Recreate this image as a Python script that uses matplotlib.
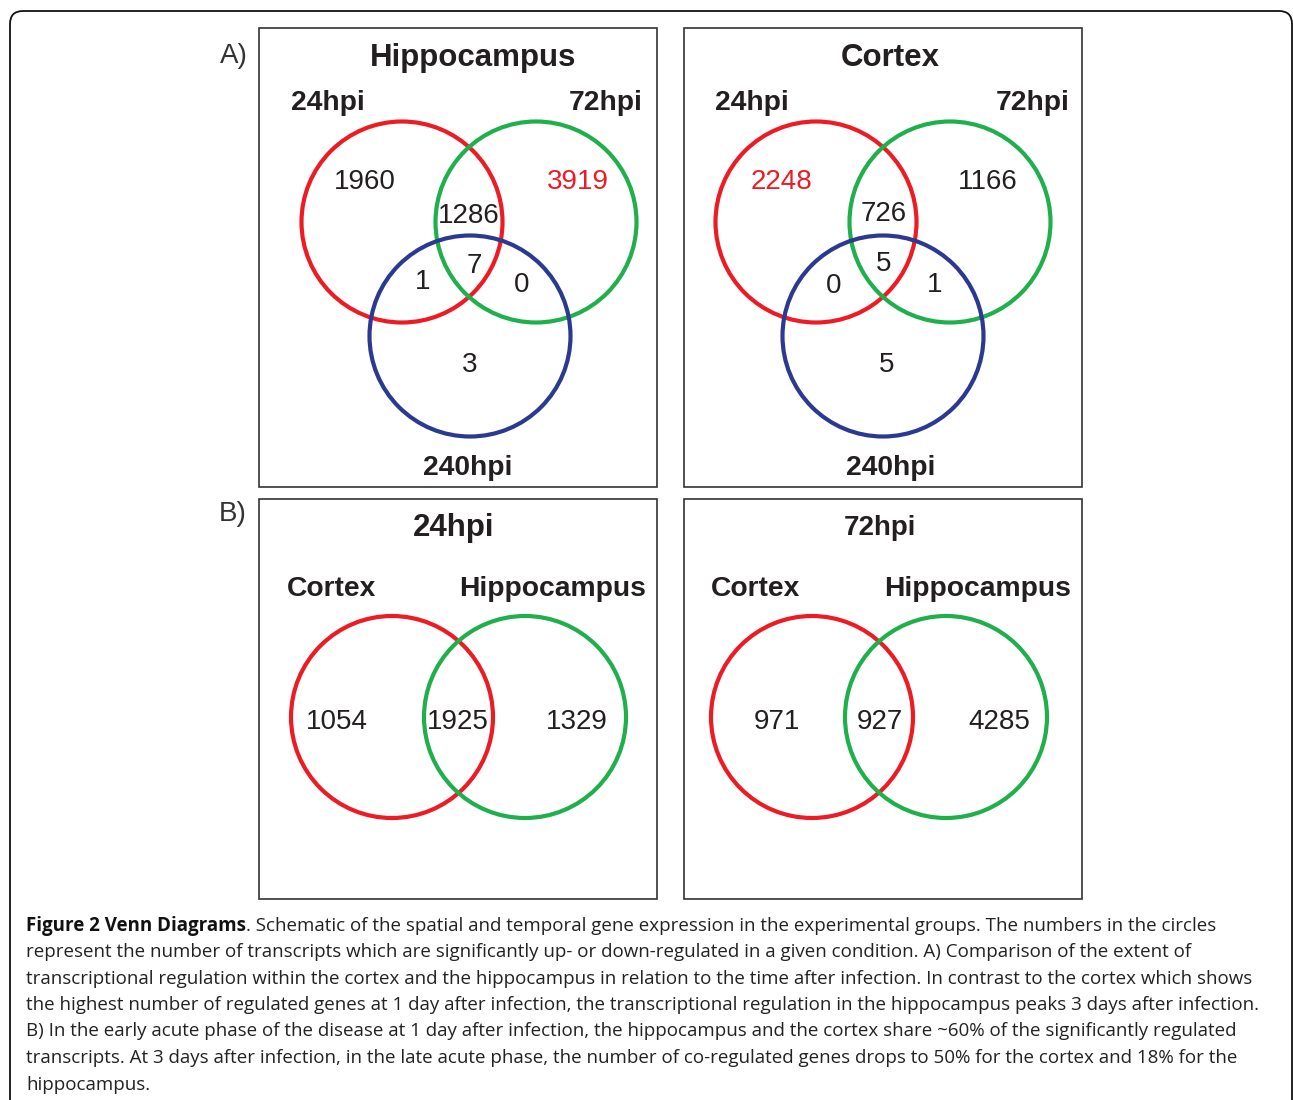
import matplotlib
matplotlib.use("Agg")
import matplotlib.pyplot as plt
from matplotlib.patches import Circle, Rectangle, FancyBboxPatch

# ---------------- data ----------------
# Panel A: three-way Venn (24hpi, 72hpi, 240hpi)
# region order: only24, only72, 24&72, 24&240, all, 72&240, only240
hippo_counts = [1960, 3919, 1286, 1, 7, 0, 3]
hippo_red = [1]                    # index of value printed in red
cortex_counts = [2248, 1166, 726, 0, 5, 1, 5]
cortex_red = [0]
set_labels_A = ["24hpi", "72hpi", "240hpi"]
titles_A = ["Hippocampus", "Cortex"]

# Panel B: two-way Venn (Cortex, Hippocampus)
titles_B = ["24hpi", "72hpi"]
set_labels_B = ["Cortex", "Hippocampus"]
b24_counts = [1054, 1925, 1329]    # only cortex, shared, only hippocampus
b72_counts = [971, 927, 4285]

caption_bold = "Figure 2 Venn Diagrams"
caption_lines = [
    ". Schematic of the spatial and temporal gene expression in the experimental groups. The numbers in the circles",
    "represent the number of transcripts which are significantly up- or down-regulated in a given condition. A) Comparison of the extent of",
    "transcriptional regulation within the cortex and the hippocampus in relation to the time after infection. In contrast to the cortex which shows",
    "the highest number of regulated genes at 1 day after infection, the transcriptional regulation in the hippocampus peaks 3 days after infection.",
    "B) In the early acute phase of the disease at 1 day after infection, the hippocampus and the cortex share ~60% of the significantly regulated",
    "transcripts. At 3 days after infection, in the late acute phase, the number of co-regulated genes drops to 50% for the cortex and 18% for the",
    "hippocampus.",
]

# ---------------- style ----------------
RED = "#ed1c24"
GREEN = "#1fb04b"
BLUE = "#2b3990"
TXT = "#231f20"
FONT = "Liberation Sans"
CAP_FONT = "Open Sans"
LW = 3.0
DY = 2

W, H = 1293, 1100
fig = plt.figure(figsize=(W / 100, H / 100), dpi=100)
ax = fig.add_axes([0, 0, 1, 1])
ax.set_xlim(0, W)
ax.set_ylim(H, 0)
ax.axis("off")

# outer rounded frame
ax.add_patch(FancyBboxPatch((10, 11), 1282, 1130,
                            boxstyle="round,pad=0,rounding_size=13",
                            fill=False, ec="#111111", lw=1.3, clip_on=False))

def box(x0, y0, x1, y1):
    ax.add_patch(Rectangle((x0, y0), x1 - x0, y1 - y0, fill=False,
                           ec="#333333", lw=1.2))

def txt(x, y, s, size, bold=False, color=TXT, **kw):
    ax.text(x, y + DY, s, fontsize=size, fontfamily=FONT,
            fontweight="bold" if bold else "normal", color=color,
            ha="center", va="center", **kw)

def circ(cx, cy, r, color):
    ax.add_patch(Circle((cx, cy), r, fill=False, ec=color, lw=LW))

# panel labels
txt(234, 54, "A)", 20, color="#333333")
txt(233, 512, "B)", 20, color="#333333")

# ---------- Panel A ----------
def venn3(x0, counts, red_idx, title, title_dx, lab_pos, num_pos, centers):
    box(x0, 28, x0 + 398, 487)
    txt(x0 + title_dx, 56, title, 22.5, bold=True)
    for (lx, ly), lab in zip(lab_pos, set_labels_A):
        txt(x0 + lx, ly, lab, 20.3, bold=True)
    for (cx, cy), col in zip(centers, [RED, GREEN, BLUE]):
        circ(x0 + cx, cy, 100.5, col)
    for i, ((nx, ny), v) in enumerate(zip(num_pos, counts)):
        txt(x0 + nx, ny, str(v), 20, color=RED if i in red_idx else TXT)

venn3(259, hippo_counts, hippo_red, titles_A[0], 214,
      [(69, 101), (347, 101), (209, 466)],
      [(106, 180), (319, 180), (210, 214), (164, 280), (215, 264), (263, 283), (211, 363)],
      [(143, 222), (277, 222), (211, 336)])
venn3(684, cortex_counts, cortex_red, titles_A[1], 206,
      [(68, 101), (349, 101), (207, 466)],
      [(98, 180), (304, 180), (200, 212), (150, 284), (200, 262), (251, 283), (203, 363)],
      [(132, 222), (266, 222), (199, 336)])

# ---------- Panel B ----------
def venn2(x0, counts, title, tsize, cx, num_x, lab_x):
    box(x0, 499, x0 + 398, 899)
    txt(x0 + 195 if tsize > 21 else x0 + 196, 526, title, tsize, bold=True)
    for lx, lab in zip(lab_x, set_labels_B):
        txt(x0 + lx, 587, lab, 20.3, bold=True)
    circ(x0 + cx[0], 717, 101, RED)
    circ(x0 + cx[1], 717, 101, GREEN)
    for nx, v in zip(num_x, counts):
        txt(x0 + nx, 720, str(v), 20)

venn2(259, b24_counts, titles_B[0], 22.5, (133, 266), (78, 199, 318), (73, 294))
venn2(684, b72_counts, titles_B[1], 20, (128, 262), (93, 196, 315), (72, 294))

# ---------- caption ----------
r = fig.canvas.get_renderer()
X0 = 26
line_right = [1278, 1197, 1255, 1256, 1243, 1243, 146]

def line_width(i, size):
    ts = []
    if i == 0:
        ts.append(ax.text(0, 0, caption_bold, fontsize=size, fontfamily=CAP_FONT, fontweight="bold"))
    ts.append(ax.text(0, 0, caption_lines[i], fontsize=size, fontfamily=CAP_FONT))
    w = sum(t.get_window_extent(r).width for t in ts)
    for t in ts:
        t.remove()
    return w

s0 = 12.0
size = min(s0 * (line_right[i] - X0) / line_width(i, s0) for i in range(len(caption_lines) - 1))

ys = [926, 952, 979, 1005, 1031, 1058, 1085]
tb = ax.text(X0, ys[0], caption_bold, fontsize=size, fontfamily=CAP_FONT,
             fontweight="bold", color="#111111", ha="left", va="center")
bw = tb.get_window_extent(r).width
ax.text(X0 + bw, ys[0], caption_lines[0], fontsize=size, fontfamily=CAP_FONT,
        color="#222222", ha="left", va="center")
for y, line in zip(ys[1:], caption_lines[1:]):
    ax.text(X0, y, line, fontsize=size, fontfamily=CAP_FONT, color="#222222",
            ha="left", va="center")

fig.savefig("out.png", dpi=100, facecolor="white")
